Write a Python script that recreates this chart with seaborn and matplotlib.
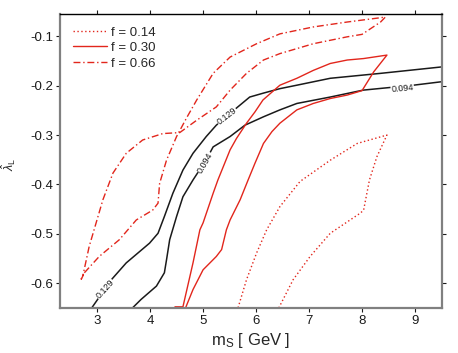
import matplotlib
matplotlib.use('Agg')
import matplotlib.pyplot as plt
from matplotlib.lines import Line2D
import numpy as np
import seaborn as sns

# contour lines (black)
c129_x = [2.90, 3.27, 3.55, 3.99, 4.15, 4.27, 4.43, 4.62, 4.81, 5.06, 5.25, 5.51, 5.88, 6.14, 6.45, 6.77, 7.40, 8.35, 9.50]
c129_y = [-0.650, -0.593, -0.559, -0.519, -0.499, -0.465, -0.418, -0.371, -0.337, -0.303, -0.280, -0.256, -0.223, -0.215, -0.206, -0.199, -0.185, -0.175, -0.162]
c094_x = [3.67, 3.83, 4.12, 4.27, 4.31, 4.37, 4.50, 4.62, 4.81, 5.06, 5.19, 5.51, 5.79, 6.14, 6.45, 6.77, 7.40, 8.02, 8.97, 9.50]
c094_y = [-0.650, -0.633, -0.606, -0.579, -0.553, -0.512, -0.465, -0.425, -0.391, -0.350, -0.324, -0.303, -0.280, -0.263, -0.249, -0.236, -0.223, -0.209, -0.199, -0.192]

# f = 0.14 (dotted)
f14_x = [5.66, 5.82, 6.01, 6.20, 6.45, 6.83, 7.40, 7.91, 8.47, 8.28, 8.14, 8.03, 7.97, 7.40, 7.02, 6.70, 6.43]
f14_y = [-0.650, -0.593, -0.539, -0.492, -0.445, -0.394, -0.351, -0.317, -0.300, -0.344, -0.391, -0.452, -0.458, -0.499, -0.546, -0.593, -0.650]

# f = 0.30 (solid)
f30_x = [4.47, 4.62, 4.81, 4.94, 5.00, 5.19, 5.28, 5.51, 5.63, 5.82, 5.98, 6.13, 6.30, 6.45, 6.77, 7.08, 7.40, 7.72, 8.03, 8.47,
         8.22, 8.00, 7.72, 7.40, 7.08, 6.77, 6.45, 6.30, 6.14, 5.98, 5.85, 5.70, 5.51, 5.44, 5.35, 5.25, 5.00, 4.81, 4.67]
f30_y = [-0.648, -0.648, -0.559, -0.492, -0.478, -0.418, -0.391, -0.330, -0.307, -0.276, -0.253, -0.229, -0.213, -0.199, -0.185, -0.169, -0.155, -0.148, -0.145, -0.138,
         -0.172, -0.210, -0.219, -0.226, -0.236, -0.249, -0.276, -0.293, -0.317, -0.357, -0.391, -0.431, -0.472, -0.492, -0.532, -0.546, -0.573, -0.613, -0.650]

# f = 0.66 (dash-dot)
f66_x = [2.76, 3.04, 3.42, 3.74, 4.05, 4.15, 4.18, 4.31, 4.50, 4.69, 4.88, 5.19, 5.51, 6.01, 6.45, 7.08, 7.72, 8.44,
         8.35, 8.00, 7.72, 7.08, 6.45, 6.14, 5.82, 5.51, 5.25, 4.88, 4.56, 4.24, 3.86, 3.55, 3.30, 3.11, 2.85, 2.73, 2.70, 2.76]
f66_y = [-0.579, -0.546, -0.512, -0.472, -0.452, -0.438, -0.398, -0.351, -0.303, -0.265, -0.229, -0.175, -0.142, -0.115, -0.095, -0.081, -0.071, -0.061,
         -0.071, -0.096, -0.101, -0.115, -0.135, -0.148, -0.175, -0.209, -0.243, -0.270, -0.295, -0.297, -0.310, -0.337, -0.377, -0.431, -0.526, -0.586, -0.592, -0.579]

legend_labels = ['f = 0.14', 'f = 0.30', 'f = 0.66']

red = '#e2261c'
dotted = (0, (1, 1.8))
dashdot = (0, (5, 2, 1, 2))

sns.set_theme(style='white')
plt.rcParams['font.family'] = ['Liberation Sans', 'DejaVu Sans']
plt.rcParams['mathtext.fontset'] = 'custom'
plt.rcParams['mathtext.rm'] = 'Liberation Sans'
plt.rcParams['mathtext.it'] = 'Liberation Sans:italic'

fig = plt.figure(figsize=(4.58, 3.53), dpi=100)
ax = fig.add_axes([0.131, 0.128, 0.833, 0.832])

sns.lineplot(x=c129_x, y=c129_y, sort=False, estimator=None, color='#1a1a1a', lw=1.1, ax=ax)
sns.lineplot(x=c094_x, y=c094_y, sort=False, estimator=None, color='#1a1a1a', lw=1.1, ax=ax)
sns.lineplot(x=f14_x, y=f14_y, sort=False, estimator=None, color=red, lw=1.0, linestyle=dotted, ax=ax)
sns.lineplot(x=f30_x, y=f30_y, sort=False, estimator=None, color=red, lw=1.0, ax=ax)
sns.lineplot(x=f66_x, y=f66_y, sort=False, estimator=None, color=red, lw=1.0, linestyle=dashdot, ax=ax)

# contour labels
lab = dict(fontsize=6.5, ha='center', va='center', color='#1a1a1a',
           bbox=dict(facecolor='white', edgecolor='none', pad=0.3))
ax.text(3.15, -0.612, '0.129', rotation=48, **lab)
ax.text(5.45, -0.262, '0.129', rotation=38, **lab)
ax.text(5.03, -0.356, '0.094', rotation=60, **lab)
ax.text(8.76, -0.205, '0.094', rotation=5, **lab)

ax.set_xlim(2.3, 9.5)
ax.set_ylim(-0.65, -0.055)
ax.set_xticks(np.arange(3, 10))
ax.set_yticks([-0.6, -0.5, -0.4, -0.3, -0.2, -0.1])
ax.set_yticklabels(['-0.6', '-0.5', '-0.4', '-0.3', '-0.2', '-0.1'])
ax.tick_params(direction='out', length=3, width=0.8, top=True, right=True,
               labeltop=False, labelright=False, labelsize=9.5, pad=2, colors='#1a1a1a')
ax.tick_params(axis='both', which='both', bottom=True, left=True)

for s in ['left', 'bottom', 'right']:
    ax.spines[s].set_color('#808080')
    ax.spines[s].set_linewidth(1.6)
ax.spines['top'].set_color('black')
ax.spines['top'].set_linewidth(1.0)

ax.set_xlabel(r'm$_\mathrm{S}$ [ GeV ]', fontsize=12, labelpad=3)
ax.set_ylabel(r'$\hat{\lambda}_\mathrm{L}$', fontsize=9)
ax.yaxis.set_label_coords(-0.11, 0.49)

handles = [Line2D([], [], color=red, lw=1.0, linestyle=dotted),
           Line2D([], [], color=red, lw=1.0),
           Line2D([], [], color=red, lw=1.0, linestyle=dashdot)]
ax.legend(handles, legend_labels, loc='upper left', frameon=False, fontsize=9.5,
          handlelength=2.6, handletextpad=0.3, labelspacing=0.25,
          borderaxespad=0.3, bbox_to_anchor=(0.01, 0.99))

fig.savefig('out.png', dpi=100)
